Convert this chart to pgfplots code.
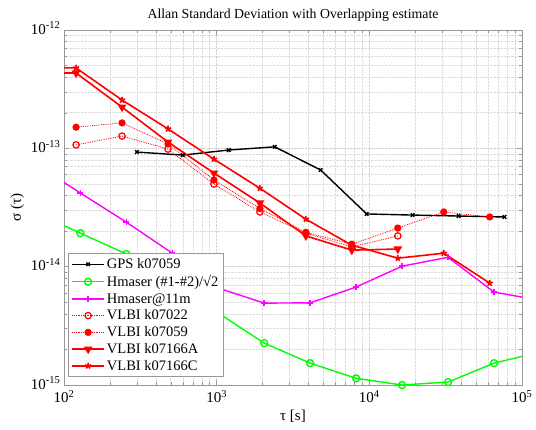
\documentclass[border=0pt]{standalone}
\usepackage{fontspec}
\setmainfont{Liberation Serif}
\usepackage{pgfplots}
\pgfplotsset{compat=1.18}
\definecolor{mgreen}{rgb}{0,1,0}
\definecolor{mmag}{rgb}{1,0,1}
\definecolor{mred}{rgb}{1,0,0}
\begin{document}
\begin{tikzpicture}
\begin{axis}[
  scale only axis, width=458pt, height=355pt,
  xmode=log, ymode=log,
  xmin=100, xmax=1e5, ymin=1e-15, ymax=1e-12,
  xtick={1e2,1e3,1e4,1e5},
  xticklabels={10\textsuperscript{2},10\textsuperscript{3},10\textsuperscript{4},10\textsuperscript{5}},
  ytick={1e-15,1e-14,1e-13,1e-12},
  yticklabels={10\textsuperscript{-15},10\textsuperscript{-14},10\textsuperscript{-13},10\textsuperscript{-12}},
  grid=both,
  major grid style={densely dotted, gray!35, line width=0.5pt},
  minor grid style={densely dotted, gray!28, line width=0.5pt},
  tick align=inside, major tick length=5pt, minor tick length=3pt,
  every tick/.style={gray!80},
  axis line style={gray!80},
  ticklabel style={font=\fontsize{15}{17}\selectfont},
  xticklabel style={yshift=-2pt},
  yticklabel style={yshift=2pt},
  title={Allan Standard Deviation with Overlapping estimate},
  title style={font=\fontsize{13.8}{15}\selectfont, yshift=-1pt},
  xlabel={τ [s]}, ylabel={σ (τ)},
  label style={font=\fontsize{15}{17}\selectfont},
  legend style={at={(0.009,0.023)}, anchor=south west, draw=gray!80, fill=white,
    font=\fontsize{14.5}{16}\selectfont, row sep=1.2pt, inner sep=3pt},
  legend cell align=left,
  legend image code/.code={\draw[mark repeat=2,mark phase=2] plot coordinates {(0pt,0pt) (16pt,0pt) (32pt,0pt)};},
]
\addplot[black, line width=1.4pt, mark=x, mark size=2.5pt] coordinates {
  (300,9.3e-14) (600,8.77e-14) (1200,9.68e-14) (2400,1.03e-13) (4800,6.56e-14)
  (9600,2.79e-14) (19200,2.73e-14) (38400,2.68e-14) (76800,2.63e-14)};
\addlegendentry{GPS k07059}
\addplot[mgreen, line width=1.4pt, mark=o, mark size=3.5pt] coordinates {
  (64,2.9e-14) (128,1.92e-14) (256,1.28e-14) (512,7.26e-15) (1024,4.06e-15) (2048,2.26e-15)
  (4096,1.53e-15) (8192,1.14e-15) (16384,1.0e-15) (32768,1.06e-15) (65536,1.53e-15) (131072,1.9e-15)};
\addlegendentry{Hmaser (\#1-\#2)/√2}
\addplot[mmag, line width=1.4pt, mark=+, mark size=3pt] coordinates {
  (64,7.5e-14) (128,4.19e-14) (256,2.38e-14) (512,1.3e-14) (1024,6.6e-15) (2048,4.92e-15)
  (4096,4.95e-15) (8192,6.73e-15) (16384,1.01e-14) (32768,1.2e-14) (65536,6.1e-15) (131072,5.2e-15)};
\addlegendentry{Hmaser@11m}
\addplot[mred, densely dotted, line width=0.8pt, mark=o, mark size=3.2pt, mark options={solid, line width=1.2pt}] coordinates {
  (120,1.07e-13) (240,1.27e-13) (480,9.86e-14) (960,4.99e-14) (1920,2.9e-14)
  (3840,1.92e-14) (7680,1.47e-14) (15360,1.82e-14)};
\addlegendentry{VLBI k07022}
\addplot[mred, densely dotted, line width=0.8pt, mark=*, mark size=3.2pt, mark options={solid}] coordinates {
  (120,1.51e-13) (240,1.64e-13) (480,1.09e-13) (960,5.4e-14) (1920,3.1e-14)
  (3840,1.95e-14) (7680,1.55e-14) (15360,2.12e-14) (30720,2.9e-14) (61440,2.63e-14)};
\addlegendentry{VLBI k07059}
\addplot[mred, line width=1.6pt, mark=triangle*, mark size=3.5pt, mark options={rotate=180}] coordinates {
  (60,4.33e-13) (120,4.33e-13) (240,2.23e-13) (480,1.13e-13) (960,6.18e-14) (1920,3.45e-14)
  (3840,1.82e-14) (7680,1.38e-14) (15360,1.41e-14)};
\addlegendentry{VLBI k07166A}
\addplot[mred, line width=1.6pt, mark=star, mark size=3.2pt, mark options={line width=1.6pt}] coordinates {
  (60,4.8e-13) (120,4.78e-13) (240,2.56e-13) (480,1.46e-13) (960,8.1e-14) (1920,4.6e-14)
  (3840,2.52e-14) (7680,1.52e-14) (15360,1.18e-14) (30720,1.30e-14) (61440,7.26e-15)};
\addlegendentry{VLBI k07166C}
\end{axis}
\pgfresetboundingbox
\path[use as bounding box] (-64pt,-45pt) rectangle (472pt,385pt);
\end{tikzpicture}
\end{document}
